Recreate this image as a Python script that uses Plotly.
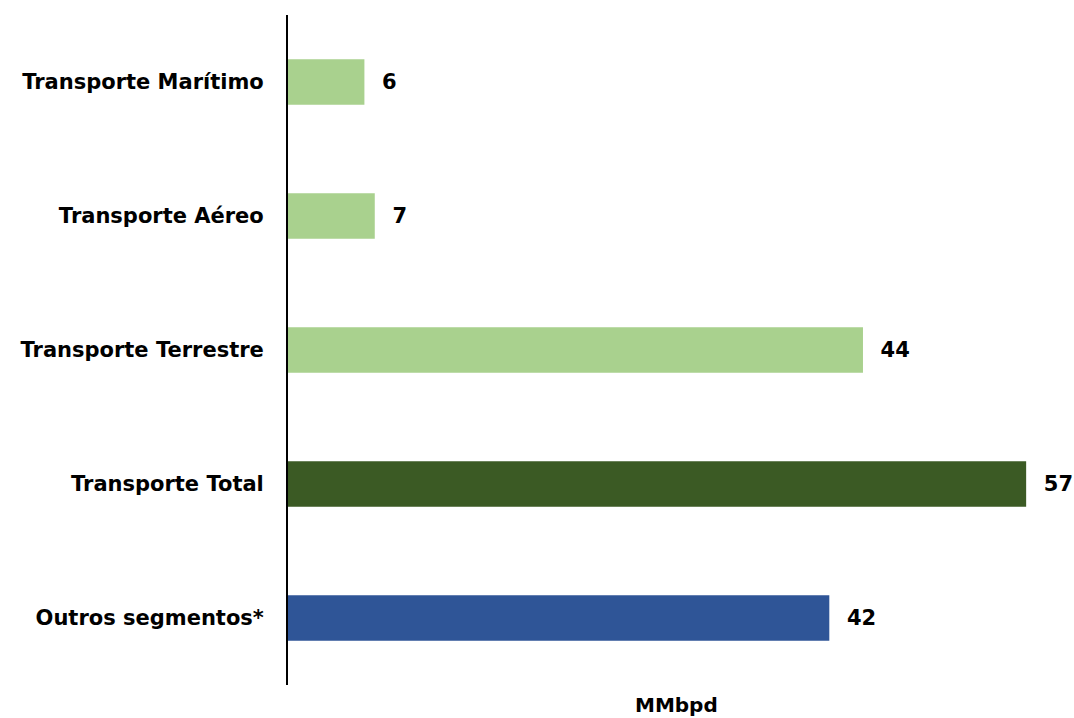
import plotly.graph_objects as go

categories = ["Transporte Marítimo", "Transporte Aéreo", "Transporte Terrestre",
              "Transporte Total", "Outros segmentos*"]
values = [5.9, 6.7, 44.4, 57.0, 41.8]
colors = ["#a9d18e", "#a9d18e", "#a9d18e", "#3b5a24", "#2f5597"]
axis_title = "MMbpd"

FONT = "DejaVu Sans"

fig = go.Figure(go.Bar(
    y=categories, x=values, orientation="h",
    marker=dict(color=colors, line=dict(width=0)),
    width=0.34,
    texttemplate="  %{x:.0f}", textposition="outside", cliponaxis=False,
    constraintext="none",
    textfont=dict(family=FONT, size=21, color="black", weight="bold"),
))

fig.update_layout(
    width=1074, height=718,
    margin=dict(l=288, r=9, t=15, b=33),
    plot_bgcolor="white", paper_bgcolor="white",
    showlegend=False,
    font=dict(family=FONT, color="black"),
    xaxis=dict(range=[0, 60], showgrid=False, zeroline=False, showticklabels=False,
               showline=False, ticks=""),
    yaxis=dict(autorange="reversed", showgrid=False, zeroline=False,
               showline=True, linecolor="black", linewidth=2,
               ticks="", ticklabelstandoff=18,
               tickfont=dict(family=FONT, size=21, color="black", weight="bold")),
    annotations=[dict(text=axis_title, x=0.5, xref="paper", y=-0.03, yref="paper",
                      xanchor="center", yanchor="middle", showarrow=False,
                      font=dict(family=FONT, size=20, color="black", weight="bold"))],
)

fig.write_html("out.html")
